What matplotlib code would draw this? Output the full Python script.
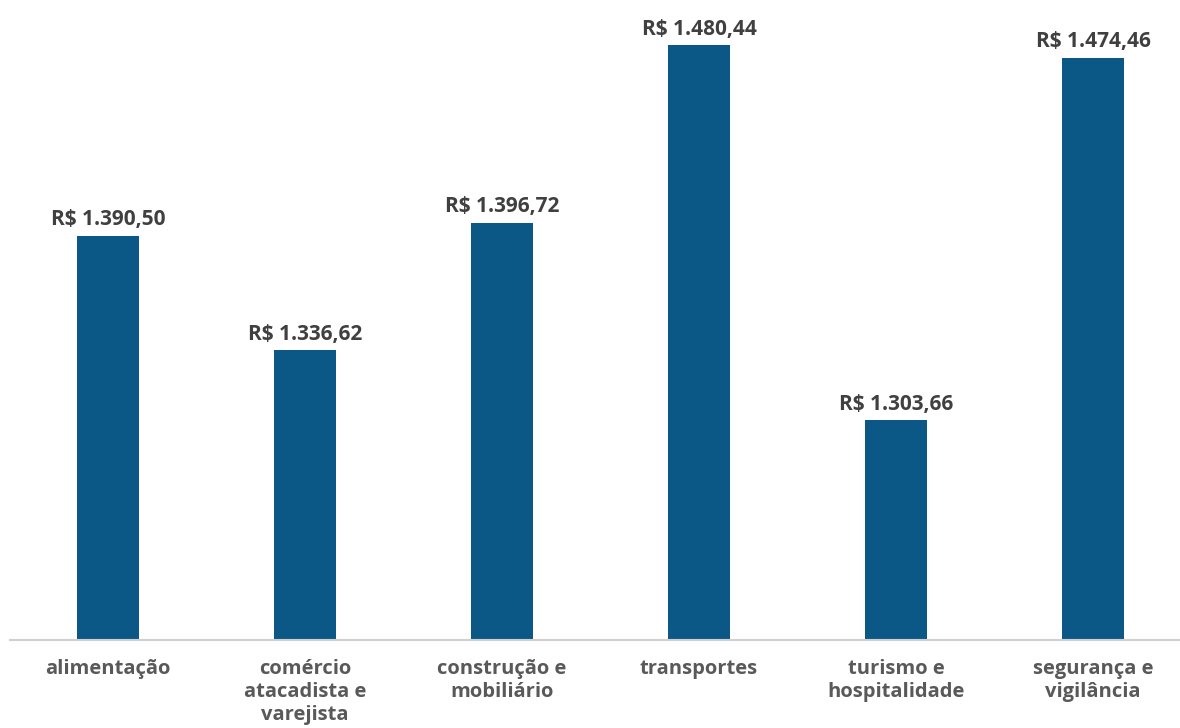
import matplotlib
matplotlib.use("Agg")
import matplotlib.pyplot as plt

# data
categories = ["alimentação", "comércio\natacadista e\nvarejista", "construção e\nmobiliário",
              "transportes", "turismo e\nhospitalidade", "segurança e\nvigilância"]
values = [1390.50, 1336.62, 1396.72, 1480.44, 1303.66, 1474.46]
value_labels = ["R$ 1.390,50", "R$ 1.336,62", "R$ 1.396,72",
                "R$ 1.480,44", "R$ 1.303,66", "R$ 1.474,46"]

plt.rcParams['font.family'] = ['Open Sans', 'DejaVu Sans']

fig = plt.figure(figsize=(11.8, 7.28), dpi=100)
ax = fig.add_axes([9.5 / 1180, 88 / 728, 1182 / 1180, 640 / 728])

x = list(range(len(values)))
bars = ax.bar(x, values, width=0.315, color="#0b5886", zorder=2)

ax.set_ylim(1200, 1501.7)
ax.set_xlim(-0.5, 5.5)

# value labels on top of the bars
for rect, lab in zip(bars, value_labels):
    ax.annotate(lab, (rect.get_x() + rect.get_width() / 2, rect.get_height()),
                xytext=(0, 4), textcoords="offset points", ha="center", va="bottom",
                fontsize=15, fontweight="bold", color="#404040", annotation_clip=False)

ax.set_xticks(x)
ax.set_xticklabels(categories, fontsize=14.5, fontweight="bold", color="#595959",
                   linespacing=1.2, va="top")
ax.tick_params(axis="x", length=0, pad=14)
ax.set_yticks([])

for side in ["top", "right", "left"]:
    ax.spines[side].set_visible(False)
ax.spines["bottom"].set_color("#d0d0d0")
ax.spines["bottom"].set_linewidth(1.5)

fig.savefig("out.png", dpi=100)
